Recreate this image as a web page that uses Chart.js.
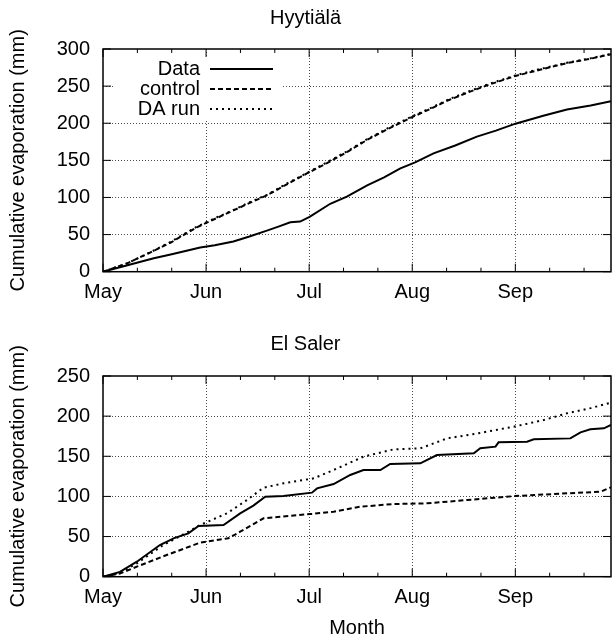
<!DOCTYPE html>
<html>
<head>
<meta charset="utf-8">
<script src="https://cdn.jsdelivr.net/npm/chart.js@4.4.1/dist/chart.umd.min.js"></script>
<style>
  html, body { margin: 0; padding: 0; background: #fff; overflow: hidden; }
  #top-box { position: absolute; left: 0; top: 0; width: 612px; height: 320px; }
  #bottom-box { position: absolute; left: 0; top: 300px; width: 612px; height: 342px; }
</style>
</head>
<body>
<div id="top-box"><canvas id="hyytiala-chart" width="612" height="320"></canvas></div>
<div id="bottom-box"><canvas id="saler-chart" width="612" height="342"></canvas></div>
<script>
// Month ticks (x is days since 1 May)
const monthNames = ['May', 'Jun', 'Jul', 'Aug', 'Sep'];
const monthLength = 30.4375;
const dayMax = 150;

// Hyytiala
const hyyDataDays = [0, 5, 10, 15, 20.3, 28.7, 33, 38.5, 43, 48.4, 52, 55.3, 58.2, 61, 67.1, 72, 78, 83, 87.8, 92, 97.6, 104, 110.4, 116, 121.8, 130, 137, 144, 150];
const hyyDataMm = [0, 6, 12, 18, 23.6, 32.6, 35.5, 40.8, 47, 55.3, 61, 66.6, 67.5, 74, 91.5, 101, 116.4, 127, 139.1, 147, 159.5, 170, 182, 190, 199.4, 210, 218.4, 224, 229.7];
const hyyModelDays = [0, 7, 13.9, 20.3, 27.7, 33, 38.5, 43, 48.4, 54, 60.2, 66, 72, 78, 84, 90.7, 97, 102, 107.5, 114, 121.8, 129, 137, 144, 150];
const hyyControlMm = [0, 11, 25.8, 40, 59.8, 71, 82.5, 92, 102.9, 117, 132.3, 146, 161, 177.6, 192, 207, 220, 231, 241, 252, 263.7, 272, 281, 287, 293];
const hyyDaMm = [0, 11, 26, 41, 60.5, 72, 83, 93, 103.5, 118, 133, 147, 162, 178.5, 193, 208, 221, 232, 242, 253, 264.5, 273, 281.5, 287.5, 293.5];

// El Saler
const salerDataDays = [0, 5, 10, 16.8, 21, 25.2, 28.2, 35.6, 40.5, 44.4, 47.9, 53.3, 61.7, 63.2, 68.1, 73, 76.9, 81.9, 84.8, 93.7, 98.6, 109.5, 111.4, 115.9, 116.8, 125.2, 127.2, 138, 141, 143.9, 147.9, 150];
const salerDataMm = [0, 6, 18.7, 39.5, 48, 54, 63.1, 64.4, 78.9, 88.5, 99.7, 100.5, 104.7, 110, 115.4, 126.7, 132.9, 132.9, 140.4, 141.2, 151.6, 153.7, 159.9, 162, 167.4, 168.2, 171.1, 172.3, 179.8, 183.6, 184.8, 189];
const salerDaDays = [0, 5, 10, 17.8, 23, 28.7, 36.6, 42.5, 47.4, 53.3, 62.2, 68.1, 76.9, 85.8, 93.7, 101.6, 110, 121.3, 130, 137, 144, 150];
const salerDaMm = [0, 5, 16.6, 39.5, 51, 64.4, 78.9, 95.5, 110.9, 116.3, 122.5, 132.9, 149.5, 158.6, 159.9, 172.3, 178, 186.9, 195, 203.5, 210, 216.8];
const salerControlDays = [0, 5, 10, 18.8, 28.7, 37, 40.5, 47.4, 53, 61.2, 68.1, 76, 85.8, 95.7, 107.5, 121.8, 137, 146.9, 150];
const salerControlMm = [0, 4, 12.5, 27, 42.4, 47.8, 56, 72.7, 75, 78, 81, 87.2, 90.5, 91.4, 95.5, 100.5, 103.8, 105.9, 111.3];

Chart.defaults.font.family = "'Liberation Sans', Arial, sans-serif";
Chart.defaults.font.size = 20;
Chart.defaults.color = '#000';

function points(days, mm) {
    return days.map((d, i) => ({ x: d, y: mm[i] }));
}

function series(label, days, mm, dash) {
    return {
        label: label,
        data: points(days, mm),
        borderColor: '#000',
        borderWidth: 2,
        borderDash: dash,
        pointRadius: 0,
        tension: 0,
        fill: false
    };
}

// major ticks at each month, two minor ticks in between
function monthTicks(scale) {
    const ticks = [];
    for (let k = 0; k * monthLength <= dayMax; k++) {
        for (let j = 0; j < 3; j++) {
            const v = k * monthLength + j * monthLength / 3;
            if (v <= dayMax) ticks.push({ value: v, month: j === 0 ? k : -1 });
        }
    }
    scale.ticks = ticks;
}

// gnuplot style frame, inward ticks and opaque key
const frameTicks = {
    id: 'frameTicks',
    afterDatasetsDraw(chart, args, opts) {
        const { ctx, chartArea: a, scales: { x, y } } = chart;
        ctx.save();

        if (opts.legend) {
            ctx.fillStyle = '#fff';
            ctx.fillRect(a.left + 10, a.top + 7, 170, 63);
            ctx.font = "20px 'Liberation Sans', Arial, sans-serif";
            ctx.textAlign = 'right';
            ctx.textBaseline = 'middle';
            chart.data.datasets.forEach((ds, i) => {
                const ly = a.top + 20 + i * 20;
                ctx.fillStyle = '#000';
                ctx.fillText(ds.label, a.left + 97, ly);
                ctx.strokeStyle = '#000';
                ctx.lineWidth = ds.borderWidth;
                ctx.setLineDash(ds.borderDash || []);
                ctx.beginPath();
                ctx.moveTo(a.left + 107, ly);
                ctx.lineTo(a.left + 170, ly);
                ctx.stroke();
            });
        }

        ctx.setLineDash([]);
        ctx.strokeStyle = '#000';
        ctx.lineWidth = 1;
        ctx.beginPath();
        x.ticks.forEach(t => {
            const px = x.getPixelForValue(t.value);
            const len = t.month >= 0 ? 8 : 4;
            ctx.moveTo(px, a.bottom);
            ctx.lineTo(px, a.bottom - len);
            ctx.moveTo(px, a.top);
            ctx.lineTo(px, a.top + len);
        });
        y.ticks.forEach(t => {
            const py = y.getPixelForValue(t.value);
            ctx.moveTo(a.left, py);
            ctx.lineTo(a.left + 8, py);
            ctx.moveTo(a.right, py);
            ctx.lineTo(a.right - 8, py);
        });
        ctx.stroke();

        ctx.lineWidth = 1.5;
        ctx.strokeRect(a.left, a.top, a.right - a.left, a.bottom - a.top);
        ctx.restore();
    }
};

function makeChart(canvasId, title, titlePad, yMax, datasets, xAxisHeight, showMonthTitle, showLegend) {
    const ctx = document.getElementById(canvasId).getContext('2d');
    return new Chart(ctx, {
        type: 'line',
        data: { datasets: datasets },
        options: {
            responsive: false,
            animation: false,
            layout: { padding: { left: 0, right: 1, top: 0, bottom: 0 } },
            plugins: {
                legend: { display: false },
                tooltip: { enabled: false },
                title: {
                    display: true,
                    text: title,
                    font: { size: 20, weight: 'normal' },
                    padding: titlePad
                },
                frameTicks: { legend: showLegend }
            },
            scales: {
                x: {
                    type: 'linear',
                    min: 0,
                    max: dayMax,
                    afterBuildTicks: monthTicks,
                    afterFit: s => { s.height = xAxisHeight; },
                    ticks: {
                        autoSkip: false,
                        maxRotation: 0,
                        padding: 9,
                        callback: function (value, i, ticks) {
                            const m = ticks[i].month;
                            return m >= 0 ? monthNames[m] : '';
                        }
                    },
                    grid: {
                        drawTicks: false,
                        tickLength: 0,
                        lineWidth: 1,
                        color: c => (c.tick && c.tick.month > 0) ? 'rgba(0,0,0,0.7)' : 'rgba(0,0,0,0)'
                    },
                    border: { display: false, dash: [1, 2] },
                    title: {
                        display: showMonthTitle,
                        text: 'Month',
                        font: { size: 20 },
                        padding: { top: 0, bottom: 2 }
                    }
                },
                y: {
                    min: 0,
                    max: yMax,
                    afterFit: s => { s.width = 103; },
                    ticks: { stepSize: 50, padding: 13 },
                    grid: {
                        drawTicks: false,
                        tickLength: 0,
                        lineWidth: 1,
                        color: c => (c.tick && c.tick.value > 0 && c.tick.value < yMax) ? 'rgba(0,0,0,0.7)' : 'rgba(0,0,0,0)'
                    },
                    border: { display: false, dash: [1, 2] },
                    title: {
                        display: true,
                        text: 'Cumulative evaporation (mm)',
                        font: { size: 20 },
                        padding: { top: 6, bottom: 0 }
                    }
                }
            }
        },
        plugins: [frameTicks]
    });
}

makeChart('hyytiala-chart', 'Hyytiälä', { top: 6, bottom: 19 }, 300, [
    series('Data', hyyDataDays, hyyDataMm, []),
    series('control', hyyModelDays, hyyControlMm, [5, 3]),
    series('DA run', hyyModelDays, hyyDaMm, [2, 4])
], 48.3, false, true);

makeChart('saler-chart', 'El Saler', { top: 32, bottom: 20 }, 250, [
    series('Data', salerDataDays, salerDataMm, []),
    series('control', salerControlDays, salerControlMm, [5, 3]),
    series('DA run', salerDaDays, salerDaMm, [2, 4])
], 65.3, true, false);
</script>
</body>
</html>
